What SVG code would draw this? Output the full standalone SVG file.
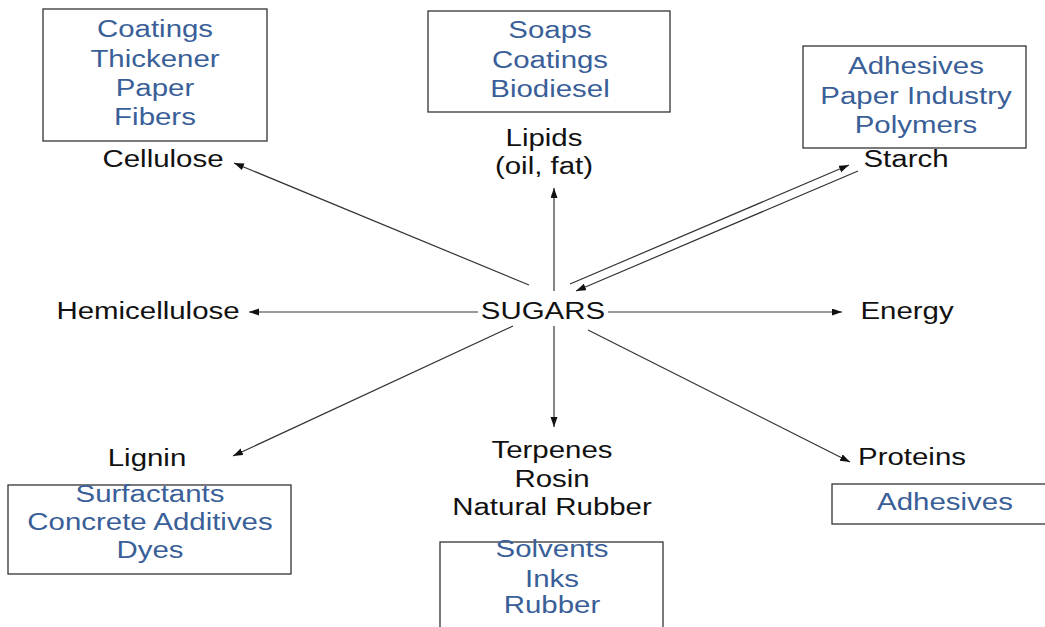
<svg xmlns="http://www.w3.org/2000/svg" width="1045" height="627" viewBox="0 0 1045 627">
<style>
text{font-family:"Liberation Sans",Arial,sans-serif;font-size:23px;text-anchor:middle}
.k{fill:#111}
.b{fill:#3a5f98}
rect{fill:#fff;stroke:#333;stroke-width:1.3}
.c line{stroke:#333;stroke-width:1.2}
</style>
<defs>
<marker id="a" markerUnits="userSpaceOnUse" markerWidth="11" markerHeight="8" refX="10" refY="3.5" orient="auto"><path d="M0,0 L10,3.5 L0,7 z" fill="#111"/></marker>
</defs>
<rect x="0" y="0" width="1045" height="627" style="stroke:none"/>
<g class="c" id="connectors">
<line x1="529" y1="285" x2="234" y2="163" marker-end="url(#a)"/>
<line x1="554" y1="291" x2="554" y2="188" marker-end="url(#a)"/>
<line x1="570" y1="284" x2="849" y2="165" marker-end="url(#a)"/>
<line x1="858" y1="171" x2="576" y2="291" marker-end="url(#a)"/>
<line x1="478" y1="312" x2="249" y2="312" marker-end="url(#a)"/>
<line x1="608" y1="312" x2="842" y2="312" marker-end="url(#a)"/>
<line x1="513" y1="326" x2="233" y2="456" marker-end="url(#a)"/>
<line x1="554" y1="326" x2="554" y2="427" marker-end="url(#a)"/>
<line x1="588" y1="330" x2="850" y2="462" marker-end="url(#a)"/>
</g>
<g id="sugars"><text class="k" transform="translate(543,319) scale(1.28,1)">SUGARS</text></g>
<g id="cellulose">
<rect x="43" y="9" width="224" height="132"/>
<text class="b" transform="translate(155,37) scale(1.28,1)">Coatings</text>
<text class="b" transform="translate(155,67) scale(1.28,1)">Thickener</text>
<text class="b" transform="translate(155,96) scale(1.28,1)">Paper</text>
<text class="b" transform="translate(155,125) scale(1.28,1)">Fibers</text>
<text class="k" transform="translate(163,167) scale(1.28,1)">Cellulose</text>
</g>
<g id="lipids">
<rect x="428" y="11" width="242" height="101"/>
<text class="b" transform="translate(550,38) scale(1.28,1)">Soaps</text>
<text class="b" transform="translate(550,68) scale(1.28,1)">Coatings</text>
<text class="b" transform="translate(550,97) scale(1.28,1)">Biodiesel</text>
<text class="k" transform="translate(544,146) scale(1.28,1)">Lipids</text>
<text class="k" transform="translate(544,174) scale(1.28,1)">(oil, fat)</text>
</g>
<g id="starch">
<rect x="803" y="46" width="223" height="102"/>
<text class="b" transform="translate(916,74) scale(1.28,1)">Adhesives</text>
<text class="b" transform="translate(916,104) scale(1.28,1)">Paper Industry</text>
<text class="b" transform="translate(916,133) scale(1.28,1)">Polymers</text>
<text class="k" transform="translate(906,167) scale(1.28,1)">Starch</text>
</g>
<g id="hemicellulose"><text class="k" transform="translate(148,319) scale(1.28,1)">Hemicellulose</text></g>
<g id="energy"><text class="k" transform="translate(907,319) scale(1.28,1)">Energy</text></g>
<g id="lignin">
<text class="k" transform="translate(147,466) scale(1.28,1)">Lignin</text>
<rect x="8" y="485" width="283" height="89"/>
<text class="b" transform="translate(150,502) scale(1.28,1)">Surfactants</text>
<text class="b" transform="translate(150,530) scale(1.28,1)">Concrete Additives</text>
<text class="b" transform="translate(150,558) scale(1.28,1)">Dyes</text>
</g>
<g id="terpenes">
<text class="k" transform="translate(552,458) scale(1.28,1)">Terpenes</text>
<text class="k" transform="translate(552,487) scale(1.28,1)">Rosin</text>
<text class="k" transform="translate(552,515) scale(1.28,1)">Natural Rubber</text>
<rect x="440" y="542" width="223" height="100"/>
<text class="b" transform="translate(552,557) scale(1.28,1)">Solvents</text>
<text class="b" transform="translate(552,587) scale(1.28,1)">Inks</text>
<text class="b" transform="translate(552,613) scale(1.28,1)">Rubber</text>
</g>
<g id="proteins">
<text class="k" transform="translate(912,465) scale(1.28,1)">Proteins</text>
<rect x="832" y="484" width="220" height="40"/>
<text class="b" transform="translate(945,510) scale(1.28,1)">Adhesives</text>
</g>
</svg>
